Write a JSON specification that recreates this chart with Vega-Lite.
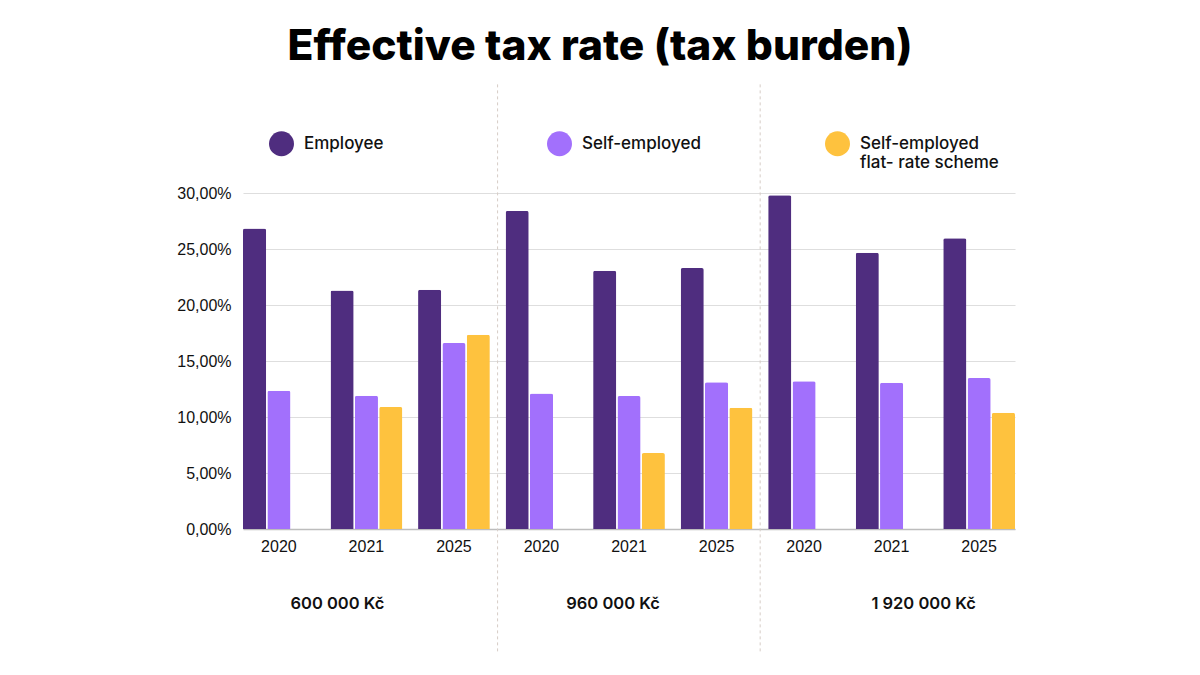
{
  "$schema": "https://vega.github.io/schema/vega-lite/v6.json",
  "width": 772,
  "height": 336,
  "autosize": {"type": "none"},
  "padding": {"left": 243, "top": 193, "right": 185, "bottom": 146},
  "background": "#ffffff",
  "title": {
    "text": "Effective tax rate (tax burden)",
    "font": "Inter",
    "fontSize": 42.5,
    "fontWeight": 800,
    "color": "#000000",
    "anchor": "middle",
    "dx": -29,
    "offset": 15
  },
  "config": {
    "view": {"stroke": null},
    "font": "Inter"
  },
  "datasets": {
    "bars": [
      {"group": "600 000 Kč|2020", "income": "600 000 Kč", "year": "2020", "series": "Employee", "value": 0.2684},
      {"group": "600 000 Kč|2020", "income": "600 000 Kč", "year": "2020", "series": "Self-employed", "value": 0.1235},
      {"group": "600 000 Kč|2021", "income": "600 000 Kč", "year": "2021", "series": "Employee", "value": 0.2130},
      {"group": "600 000 Kč|2021", "income": "600 000 Kč", "year": "2021", "series": "Self-employed", "value": 0.1190},
      {"group": "600 000 Kč|2021", "income": "600 000 Kč", "year": "2021", "series": "Self-employed flat- rate scheme", "value": 0.1090},
      {"group": "600 000 Kč|2025", "income": "600 000 Kč", "year": "2025", "series": "Employee", "value": 0.2137},
      {"group": "600 000 Kč|2025", "income": "600 000 Kč", "year": "2025", "series": "Self-employed", "value": 0.1660},
      {"group": "600 000 Kč|2025", "income": "600 000 Kč", "year": "2025", "series": "Self-employed flat- rate scheme", "value": 0.1735},
      {"group": "960 000 Kč|2020", "income": "960 000 Kč", "year": "2020", "series": "Employee", "value": 0.2840},
      {"group": "960 000 Kč|2020", "income": "960 000 Kč", "year": "2020", "series": "Self-employed", "value": 0.1210},
      {"group": "960 000 Kč|2021", "income": "960 000 Kč", "year": "2021", "series": "Employee", "value": 0.2306},
      {"group": "960 000 Kč|2021", "income": "960 000 Kč", "year": "2021", "series": "Self-employed", "value": 0.1187},
      {"group": "960 000 Kč|2021", "income": "960 000 Kč", "year": "2021", "series": "Self-employed flat- rate scheme", "value": 0.0678},
      {"group": "960 000 Kč|2025", "income": "960 000 Kč", "year": "2025", "series": "Employee", "value": 0.2330},
      {"group": "960 000 Kč|2025", "income": "960 000 Kč", "year": "2025", "series": "Self-employed", "value": 0.1310},
      {"group": "960 000 Kč|2025", "income": "960 000 Kč", "year": "2025", "series": "Self-employed flat- rate scheme", "value": 0.1083},
      {"group": "1 920 000 Kč|2020", "income": "1 920 000 Kč", "year": "2020", "series": "Employee", "value": 0.2980},
      {"group": "1 920 000 Kč|2020", "income": "1 920 000 Kč", "year": "2020", "series": "Self-employed", "value": 0.1320},
      {"group": "1 920 000 Kč|2021", "income": "1 920 000 Kč", "year": "2021", "series": "Employee", "value": 0.2467},
      {"group": "1 920 000 Kč|2021", "income": "1 920 000 Kč", "year": "2021", "series": "Self-employed", "value": 0.1306},
      {"group": "1 920 000 Kč|2025", "income": "1 920 000 Kč", "year": "2025", "series": "Employee", "value": 0.2595},
      {"group": "1 920 000 Kč|2025", "income": "1 920 000 Kč", "year": "2025", "series": "Self-employed", "value": 0.1348},
      {"group": "1 920 000 Kč|2025", "income": "1 920 000 Kč", "year": "2025", "series": "Self-employed flat- rate scheme", "value": 0.1038}
    ],
    "separators": [
      {"group": "600 000 Kč|2025"},
      {"group": "960 000 Kč|2025"}
    ]
  },
  "layer": [
    {
      "data": {"name": "bars"},
      "mark": {"type": "bar", "cornerRadiusTopLeft": 2, "cornerRadiusTopRight": 2},
      "encoding": {
        "x": {
          "field": "group",
          "type": "nominal",
          "scale": {
            "domain": ["600 000 Kč|2020", "600 000 Kč|2021", "600 000 Kč|2025", "960 000 Kč|2020", "960 000 Kč|2021", "960 000 Kč|2025", "1 920 000 Kč|2020", "1 920 000 Kč|2021", "1 920 000 Kč|2025"],
            "paddingInner": 0.18,
            "paddingOuter": 0
          },
          "axis": {
            "orient": "bottom",
            "title": null,
            "labelExpr": "split(datum.value, '|')[1]",
            "labelAngle": 0,
            "labelFont": "Liberation Sans",
            "labelFontSize": 16,
            "labelColor": "#111111",
            "labelPadding": 9,
            "ticks": false,
            "domain": true,
            "domainColor": "#bdbdbd",
            "domainWidth": 1.5,
            "grid": false
          }
        },
        "xOffset": {
          "field": "series",
          "type": "nominal",
          "scale": {"domain": ["Employee", "Self-employed", "Self-employed flat- rate scheme"], "paddingInner": 0.05, "paddingOuter": 0}
        },
        "y": {
          "field": "value",
          "type": "quantitative",
          "scale": {"domain": [0, 0.3], "nice": false, "zero": true},
          "axis": {
            "title": null,
            "values": [0, 0.05, 0.1, 0.15, 0.2, 0.25, 0.3],
            "labelExpr": "replace(format(datum.value, '.2%'), '.', ',')",
            "labelFont": "Liberation Sans",
            "labelFontSize": 16,
            "labelColor": "#111111",
            "labelPadding": 12,
            "ticks": false,
            "domain": false,
            "grid": true,
            "gridColor": "#dedede",
            "gridWidth": 1.2
          }
        },
        "color": {
          "field": "series",
          "type": "nominal",
          "scale": {
            "domain": ["Employee", "Self-employed", "Self-employed flat- rate scheme"],
            "range": ["#4F2D7F", "#A270FC", "#FEC23E"]
          },
          "legend": {
            "orient": "none",
            "legendX": 26,
            "legendY": -62,
            "direction": "horizontal",
            "columns": 3,
            "gridAlign": "all",
            "columnPadding": 104,
            "title": null,
            "symbolType": "circle",
            "symbolSize": 625,
            "symbolStrokeWidth": 0,
            "symbolOpacity": 1,
            "labelFont": "Inter",
            "labelFontSize": 17,
            "labelFontWeight": 500,
            "labelColor": "#111111",
            "labelOffset": 10,
            "labelLimit": 400,
            "labelExpr": "datum.label == 'Self-employed flat- rate scheme' ? ['Self-employed', 'flat- rate scheme'] : [datum.label, '']"
          }
        }
      }
    },
    {
      "data": {"name": "separators"},
      "mark": {"type": "rule", "strokeDash": [3, 3], "color": "#d6ccc6", "strokeWidth": 1, "clip": false},
      "encoding": {
        "x": {
          "field": "group",
          "type": "nominal",
          "bandPosition": 1.108,
          "axis": {
            "orient": "bottom",
            "title": null,
            "labelExpr": "split(datum.value, '|')[1] == '2021' ? split(datum.value, '|')[0] : ''",
            "labelAngle": 0,
            "labelFont": "Inter",
            "labelFontSize": 16.5,
            "labelFontWeight": 600,
            "labelColor": "#111111",
            "labelPadding": 66,
            "labelOffset": {
              "condition": [
                {"test": "datum.value == '600 000 Kč|2021'", "value": -29},
                {"test": "datum.value == '960 000 Kč|2021'", "value": -16}
              ],
              "value": 32
            },
            "ticks": false,
            "domain": false,
            "grid": false
          }
        },
        "y": {"datum": 0.397, "type": "quantitative"},
        "y2": {"datum": -0.11}
      }
    }
  ],
  "resolve": {"axis": {"x": "independent"}}
}
